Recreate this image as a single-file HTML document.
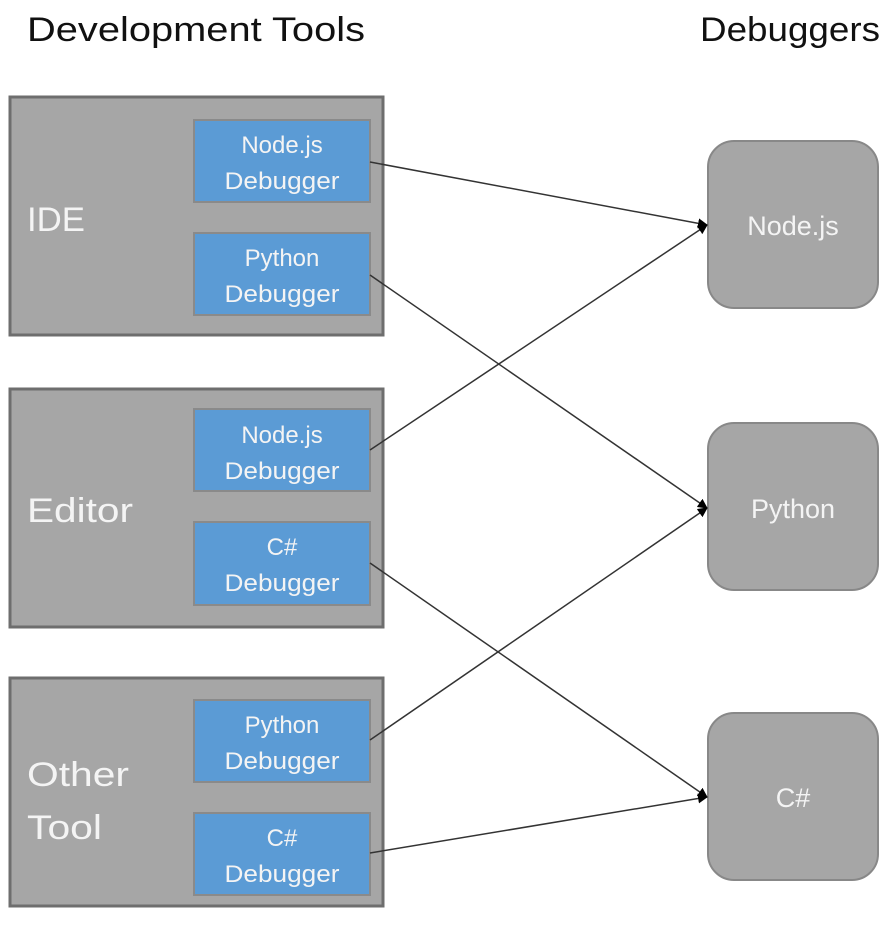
<!DOCTYPE html>
<html><head><style>
body{margin:0;background:#fff;width:892px;height:922px;overflow:hidden}
</style></head><body>
<svg width="892" height="922" xmlns="http://www.w3.org/2000/svg" font-family="Liberation Sans, sans-serif">
<defs><marker id="a" markerWidth="10" markerHeight="10" refX="9" refY="5" orient="auto" markerUnits="userSpaceOnUse"><path d="M0,0 L10,5 L0,10 z" fill="#000"/></marker></defs>
<text x="27" y="41" font-size="34" fill="#111" textLength="338" lengthAdjust="spacingAndGlyphs">Development Tools</text>
<text x="700" y="41" font-size="34" fill="#111" textLength="180" lengthAdjust="spacingAndGlyphs">Debuggers</text>
<g stroke="#6e6e6e" stroke-width="3" fill="#a6a6a6">
<rect x="10" y="97" width="373" height="238"/>
<rect x="10" y="389" width="373" height="238"/>
<rect x="10" y="678" width="373" height="228"/>
</g>
<g stroke="#8a8a8a" stroke-width="2" fill="#5b9bd5">
<rect x="194" y="120" width="176" height="82"/>
<rect x="194" y="233" width="176" height="82"/>
<rect x="194" y="409" width="176" height="82"/>
<rect x="194" y="522" width="176" height="83"/>
<rect x="194" y="700" width="176" height="82"/>
<rect x="194" y="813" width="176" height="82"/>
</g>
<g stroke="#888" stroke-width="2" fill="#a6a6a6">
<rect x="708" y="141" width="170" height="167" rx="26"/>
<rect x="708" y="423" width="170" height="167" rx="26"/>
<rect x="708" y="713" width="170" height="167" rx="26"/>
</g>
<g fill="#f4f4f4" font-size="34">
<text x="27" y="231" textLength="58" lengthAdjust="spacingAndGlyphs">IDE</text>
<text x="27" y="522" textLength="106" lengthAdjust="spacingAndGlyphs">Editor</text>
<text x="27" y="786" textLength="102" lengthAdjust="spacingAndGlyphs">Other</text>
<text x="27" y="839" textLength="75" lengthAdjust="spacingAndGlyphs">Tool</text>
</g>
<g fill="#f4f4f4" font-size="24" text-anchor="middle">
<text x="282" y="153">Node.js</text><text x="282" y="189" textLength="115" lengthAdjust="spacingAndGlyphs">Debugger</text>
<text x="282" y="266">Python</text><text x="282" y="302" textLength="115" lengthAdjust="spacingAndGlyphs">Debugger</text>
<text x="282" y="443">Node.js</text><text x="282" y="479" textLength="115" lengthAdjust="spacingAndGlyphs">Debugger</text>
<text x="282" y="555">C#</text><text x="282" y="591" textLength="115" lengthAdjust="spacingAndGlyphs">Debugger</text>
<text x="282" y="733">Python</text><text x="282" y="769" textLength="115" lengthAdjust="spacingAndGlyphs">Debugger</text>
<text x="282" y="846">C#</text><text x="282" y="882" textLength="115" lengthAdjust="spacingAndGlyphs">Debugger</text>
<text x="793" y="235" font-size="27">Node.js</text>
<text x="793" y="518" font-size="27">Python</text>
<text x="793" y="807" font-size="27">C#</text>
</g>
<g stroke="#333" stroke-width="1.5" marker-end="url(#a)">
<line x1="370" y1="162" x2="707" y2="225"/>
<line x1="370" y1="275" x2="707" y2="508"/>
<line x1="370" y1="450" x2="707" y2="225"/>
<line x1="370" y1="563" x2="707" y2="797"/>
<line x1="370" y1="740" x2="707" y2="508"/>
<line x1="370" y1="853" x2="707" y2="797"/>
</g>
</svg>
</body></html>
